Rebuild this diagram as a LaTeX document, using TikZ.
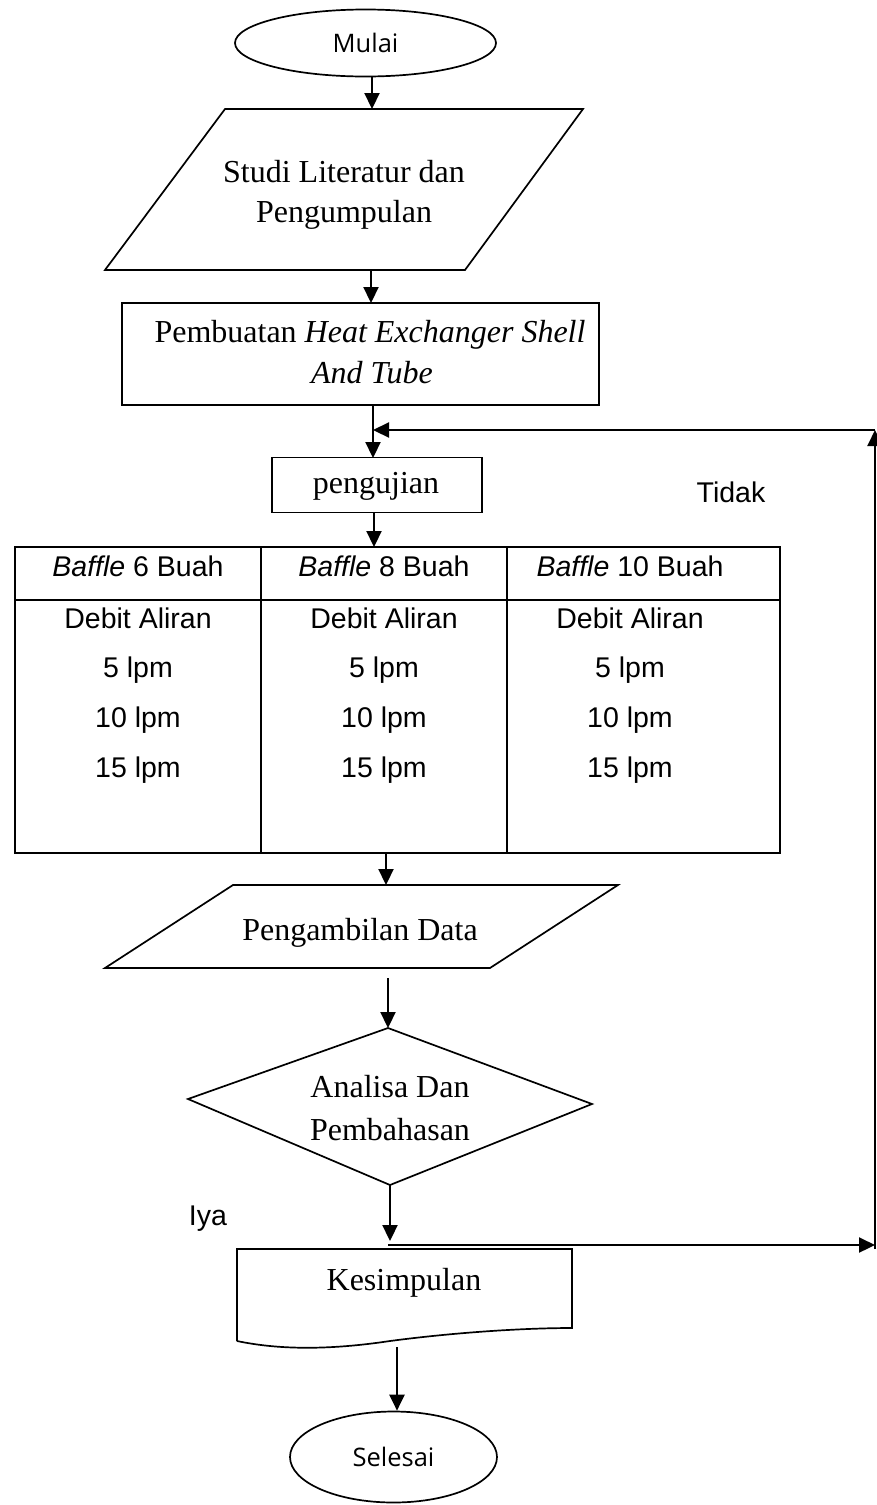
\documentclass[tikz,border=0pt]{standalone}
\usepackage{fontspec}
\setmainfont{Liberation Serif}
\newfontfamily\arialf{Liberation Sans}
\newfontfamily\opensf{Open Sans}
\usetikzlibrary{arrows.meta,shapes.geometric}
\begin{document}
\begin{tikzpicture}[x=1pt,y=-1pt,
  shapeline/.style={draw=black,line width=1.7pt},
  conn/.style={line width=2.2pt,-{Triangle[length=16pt,width=15pt]}},
  serif/.style={font=\fontsize{32}{38}\selectfont,inner sep=0pt,anchor=base},
  sans/.style={font=\arialf\fontsize{28.5}{34}\selectfont,inner sep=0pt,anchor=base},
  term/.style={shapeline,ellipse,inner sep=0pt,font=\opensf\fontsize{25.5}{30}\selectfont},
  boxnode/.style={shapeline,rectangle,inner sep=0pt}
]
\useasboundingbox (0,0) rectangle (876,1505);

% Mulai
\node[term,minimum width=261pt,minimum height=67pt] (mulai) at (365.5,43) {Mulai};

% Parallelogram 1
\coordinate (p1tl) at (225,109);
\coordinate (p1tr) at (583,109);
\coordinate (p1br) at (465,270);
\coordinate (p1bl) at (105,270);
\draw[shapeline,line join=miter] (p1tl) -- (p1tr) -- (p1br) -- (p1bl) -- cycle;
\node[serif] (studi1) at (344,182) {Studi Literatur dan};
\node[serif] (studi2) at (344,222) {Pengumpulan};
\coordinate (p1top) at (372,109);
\coordinate (p1bot) at (371,270);

% Pembuatan
\node[boxnode,minimum width=477pt,minimum height=102pt] (pembuatan) at (360.5,354) {};
\node[serif] (pem1) at (370,342) {Pembuatan \textit{Heat Exchanger Shell}};
\node[serif] (pem2) at (372,383) {\textit{And Tube}};
\coordinate (pemtop) at (371,303);
\coordinate (pembot) at (373,405);

% Pengujian
\node[boxnode,minimum width=210pt,minimum height=55pt] (uji) at (377,485) {};
\node[serif] (ujitext) at (376,493) {pengujian};
\coordinate (ujitop) at (373,458);
\coordinate (ujibot) at (374,512);

\node[sans] (tidak) at (731,502) {Tidak};

% Table
\node[boxnode,minimum width=765pt,minimum height=306pt] (tbl) at (397.5,700) {};
\coordinate (tblhl) at (15,600);
\coordinate (tblhr) at (780,600);
\coordinate (c1t) at (261,547);
\coordinate (c1b) at (261,853);
\coordinate (c2t) at (507,547);
\coordinate (c2b) at (507,853);
\draw[shapeline] (tblhl) -- (tblhr);
\draw[shapeline] (c1t) -- (c1b);
\draw[shapeline] (c2t) -- (c2b);
\coordinate (tbltop) at (374,547);
\coordinate (tblbot) at (386,853);

\node[sans] (h1) at (138,576) {\textit{Baffle} 6 Buah};
\node[sans] (h2) at (384,576) {\textit{Baffle} 8 Buah};
\node[sans] (h3) at (630,576) {\textit{Baffle} 10 Buah};
\node[sans] (d1) at (138,628) {Debit Aliran};
\node[sans] (d2) at (384,628) {Debit Aliran};
\node[sans] (d3) at (630,628) {Debit Aliran};
\node[sans] (a1) at (138,677) {5 lpm};
\node[sans] (a2) at (384,677) {5 lpm};
\node[sans] (a3) at (630,677) {5 lpm};
\node[sans] (b1) at (138,727) {10 lpm};
\node[sans] (b2) at (384,727) {10 lpm};
\node[sans] (b3) at (630,727) {10 lpm};
\node[sans] (e1) at (138,777) {15 lpm};
\node[sans] (e2) at (384,777) {15 lpm};
\node[sans] (e3) at (630,777) {15 lpm};

% Parallelogram 2
\coordinate (p2tl) at (233,885);
\coordinate (p2tr) at (618,885);
\coordinate (p2br) at (490,968);
\coordinate (p2bl) at (105,968);
\draw[shapeline,line join=miter] (p2tl) -- (p2tr) -- (p2br) -- (p2bl) -- cycle;
\node[serif] (ambil) at (360,940) {Pengambilan Data};
\coordinate (p2top) at (386,885);
\coordinate (p2bot) at (388,978);

% Diamond
\coordinate (dt) at (388,1028);
\coordinate (dr) at (592,1104);
\coordinate (db) at (390,1185);
\coordinate (dl) at (188,1099);
\draw[shapeline,line join=miter] (dt) -- (dr) -- (db) -- (dl) -- cycle;
\node[serif] (an1) at (390,1097) {Analisa Dan};
\begin{scope}
\clip (0,0) rectangle (876,1141);
\node[serif] (an2) at (390,1140) {Pembahasan};
\end{scope}

\node[sans] (iya) at (208,1225) {Iya};

% Kesimpulan (document shape)
\coordinate (ktl) at (237,1249);
\coordinate (ktr) at (572,1249);
\coordinate (kbr) at (572,1328);
\coordinate (kbl) at (237,1341);
\draw[shapeline] (kbl) -- (ktl) -- (ktr) -- (kbr)
  .. controls (520,1328) and (450,1333) .. (390,1341)
  .. controls (330,1350) and (280,1350) .. (kbl);
\node[serif] (kes) at (404,1290) {Kesimpulan};
\coordinate (kestop) at (390,1241);
\coordinate (kesbot) at (397,1347);

% Selesai
\node[term,minimum width=207pt,minimum height=91pt] (selesai) at (393.5,1457) {Selesai};

% Connectors
\draw[conn] (mulai.south -| p1top) -- (p1top);
\draw[conn] (p1bot) -- (pemtop);
\draw[conn] (pembot) -- (ujitop);
\draw[conn] (ujibot) -- (tbltop);
\draw[conn] (tblbot) -- (p2top);
\draw[conn] (p2bot) -- (dt);
\draw[conn] (db) -- (kestop);
\draw[conn] (kesbot) -- (selesai.north -| kesbot);

% Feedback loop
\coordinate (fbs) at (388,1245);
\coordinate (fbr) at (875,1245);
\coordinate (fbt) at (875,430);
\coordinate (fbl) at (373,430);
\draw[conn] (fbs) -- (fbr);
\draw[conn] ([yshift=-4pt]fbr) -- (fbt);
\draw[conn] (fbt) -- (fbl);
\end{tikzpicture}
\end{document}
